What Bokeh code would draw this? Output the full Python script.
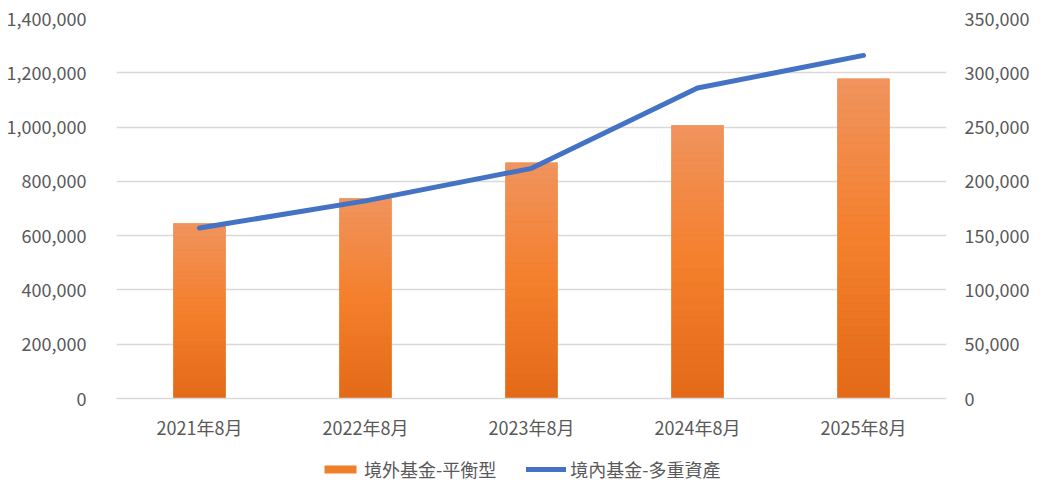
from bokeh.plotting import figure
from bokeh.layouts import column
from bokeh.models import (ColumnDataSource, Range1d, LinearAxis, FactorRange,
                          SingleIntervalTicker, NumeralTickFormatter, Legend, LegendItem)
from bokeh.embed import file_html
from bokeh.resources import INLINE

categories = ["2021年8月", "2022年8月", "2023年8月", "2024年8月", "2025年8月"]
bar_values = [645000, 737000, 869000, 1006000, 1178000]
line_values = [157000, 182000, 212000, 286000, 316000]
bar_name = "境外基金-平衡型"
line_name = "境內基金-多重資產"

FONT = "Noto Sans CJK TC"
TXT = "#595959"
GRID = "#D9D9D9"
BAR_C = "#F07F2C"
LINE_C = "#4472C4"

p = figure(x_range=FactorRange(*categories, range_padding=0),
           y_range=Range1d(0, 1400000),
           width=1036, height=452,
           min_border_left=116, min_border_right=90, min_border_top=18, min_border_bottom=54,
           output_backend="svg", toolbar_location=None)
p.extra_y_ranges = {"right": Range1d(0, 350000)}

# gradient-like bars: slices of each bar from its own value
top_c = (0xF0, 0x93, 0x5E)
mid_c = (0xF4, 0x80, 0x2C)
bot_c = (0xE3, 0x69, 0x18)
N = 40
xs, bots, tops, cols = [], [], [], []
for c, v in zip(categories, bar_values):
    for k in range(N):
        f = (k + 0.5) / N  # 0 bottom -> 1 top
        if f < 0.5:
            t = f / 0.5
            rgb = [bot_c[i] + (mid_c[i] - bot_c[i]) * t for i in range(3)]
        else:
            t = (f - 0.5) / 0.5
            rgb = [mid_c[i] + (top_c[i] - mid_c[i]) * t for i in range(3)]
        xs.append(c)
        bots.append(v * k / N)
        tops.append(v * (k + 1) / N)
        cols.append("#%02x%02x%02x" % tuple(int(round(x)) for x in rgb))

p.vbar(x=categories, top=bar_values, width=0.313, fill_color=BAR_C, line_color=None)
slices = ColumnDataSource(dict(x=xs, bottom=bots, top=tops, color=cols))
p.vbar(x="x", bottom="bottom", top="top", width=0.313, fill_color="color",
       line_color="color", line_width=0.5, source=slices)

p.line(x=categories, y=line_values, y_range_name="right", line_color=LINE_C,
       line_width=5, line_cap="round", line_join="round")

# axes
p.yaxis.ticker = SingleIntervalTicker(interval=200000)
p.yaxis.formatter = NumeralTickFormatter(format="0,0")
right = LinearAxis(y_range_name="right", ticker=SingleIntervalTicker(interval=50000),
                   formatter=NumeralTickFormatter(format="0,0"))
p.add_layout(right, "right")

for ax in [p.yaxis[0], right]:
    ax.axis_line_color = None
    ax.major_tick_line_color = None
    ax.minor_tick_line_color = None
    ax.major_label_text_font = FONT
    ax.major_label_text_font_size = "18px"
    ax.major_label_text_color = TXT
    ax.major_label_standoff = 12
p.yaxis[0].major_label_standoff = 24

xa = p.xaxis[0]
xa.axis_line_color = GRID
xa.axis_line_width = 1.5
xa.major_tick_line_color = None
xa.minor_tick_line_color = None
xa.major_tick_out = 0
xa.major_tick_in = 0
xa.major_label_text_font = FONT
xa.major_label_text_font_size = "18px"
xa.major_label_text_color = TXT
xa.major_label_standoff = 15

p.xgrid.grid_line_color = None
p.ygrid.grid_line_color = GRID
p.ygrid.grid_line_width = 1.5
p.outline_line_color = None

# legend strip (its renderers draw nothing visible, only the legend shows)
q = figure(width=1036, height=36, x_range=Range1d(0, 1), y_range=Range1d(0, 1),
           min_border=0, output_backend="svg", toolbar_location=None)
q.axis.visible = False
q.grid.grid_line_color = None
q.outline_line_color = None
lb = q.vbar(x=[0.5], bottom=[0], top=[0], width=0.0,
            fill_color=BAR_C, line_color=None)
ll = q.line(x=[len(categories) * 10, len(categories) * 11], y=line_values[:2],
            line_color=LINE_C, line_width=5, line_cap="round")
legend = Legend(items=[LegendItem(label=bar_name, renderers=[lb]),
                       LegendItem(label=line_name, renderers=[ll])],
                orientation="horizontal", location=(204, 6),
                label_text_font=FONT, label_text_font_size="18px", label_text_color=TXT,
                glyph_width=40, glyph_height=10, label_standoff=4, spacing=30,
                label_height=18,
                border_line_color=None, background_fill_color=None,
                padding=2, margin=0)
q.add_layout(legend, "center")

open("out.html", "w").write(file_html(column(p, q, spacing=0), INLINE))
